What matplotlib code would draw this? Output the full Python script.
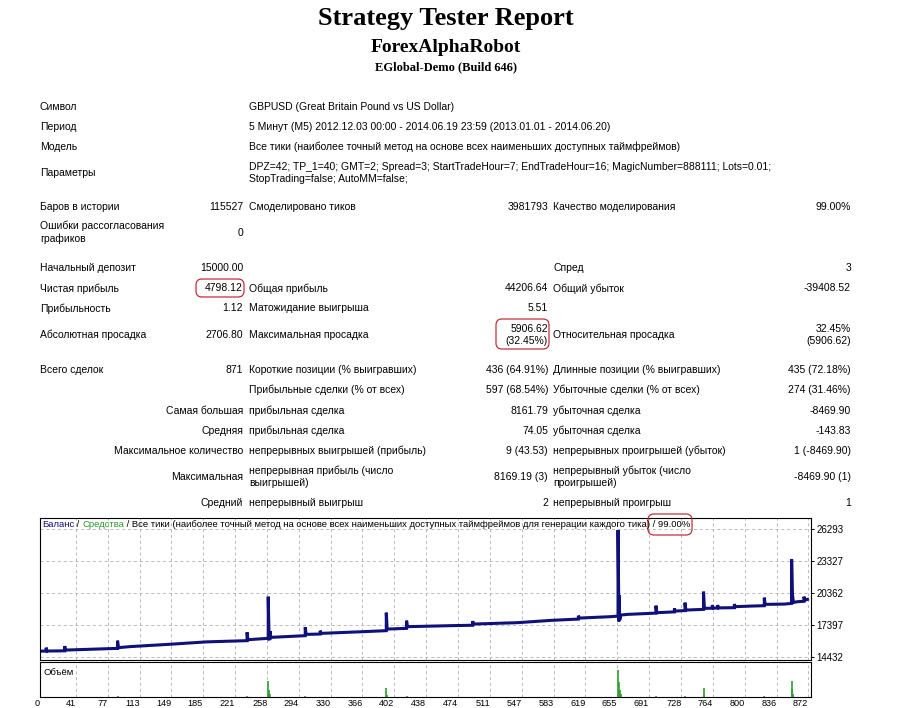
import matplotlib
matplotlib.use("Agg")
import matplotlib.pyplot as plt
from matplotlib.patches import FancyBboxPatch

plt.rcParams["font.family"] = ["Liberation Sans", "DejaVu Sans"]

# Заголовок отчёта
title = "Strategy Tester Report"
expert = "ForexAlphaRobot"
server = "EGlobal-Demo (Build 646)"

# Верхний блок: метка и значение
info_labels = ["Символ", "Период", "Модель", "Параметры"]
info_values = [
    "GBPUSD (Great Britain Pound vs US Dollar)",
    "5 Минут (M5) 2012.12.03 00:00 - 2014.06.19 23:59 (2013.01.01 - 2014.06.20)",
    "Все тики (наиболее точный метод на основе всех наименьших доступных таймфреймов)",
    "DPZ=42; TP_1=40; GMT=2; Spread=3; StartTradeHour=7; EndTradeHour=16; MagicNumber=888111; Lots=0.01;\n"
    "StopTrading=false; AutoMM=false;",
]

# Таблица результатов: (метка, значение, метка, значение, метка, значение)
stat_rows = [
    ("Баров в истории", "115527", "Смоделировано тиков", "3981793", "Качество моделирования", "99.00%"),
    ("Ошибки рассогласования\nграфиков", "0", "", "", "", ""),
    ("Начальный депозит", "15000.00", "", "", "Спред", "3"),
    ("Чистая прибыль", "4798.12", "Общая прибыль", "44206.64", "Общий убыток", "-39408.52"),
    ("Прибыльность", "1.12", "Матожидание выигрыша", "5.51", "", ""),
    ("Абсолютная просадка", "2706.80", "Максимальная просадка", "5906.62\n(32.45%)",
     "Относительная просадка", "32.45%\n(5906.62)"),
    ("Всего сделок", "871", "Короткие позиции (% выигравших)", "436 (64.91%)",
     "Длинные позиции (% выигравших)", "435 (72.18%)"),
    ("", "", "Прибыльные сделки (% от всех)", "597 (68.54%)", "Убыточные сделки (% от всех)", "274 (31.46%)"),
    ("Самая большая", "", "прибыльная сделка", "8161.79", "убыточная сделка", "-8469.90"),
    ("Средняя", "", "прибыльная сделка", "74.05", "убыточная сделка", "-143.83"),
    ("Максимальное количество", "", "непрерывных выигрышей (прибыль)", "9 (43.53)",
     "непрерывных проигрышей (убыток)", "1 (-8469.90)"),
    ("Максимальная", "", "непрерывная прибыль (число\nвыигрышей)", "8169.19 (3)",
     "непрерывный убыток (число\nпроигрышей)", "-8469.90 (1)"),
    ("Средний", "", "непрерывный выигрыш", "2", "непрерывный проигрыш", "1"),
]

# Кривая баланса (номер сделки, баланс)
trades = [0, 7, 7, 8, 28, 28, 29, 64, 88, 88, 89, 102, 148, 189, 235, 235, 236, 258,
          259, 259, 260, 261, 261, 262, 301, 301, 302, 318, 318, 319, 367, 393, 393, 394,
          416, 416, 417, 466, 491, 491, 492, 542, 580, 611, 611, 612, 648, 656, 656, 657,
          657, 658, 659, 667, 693, 699, 699, 700, 720, 720, 721, 732, 732, 733, 753, 753,
          754, 763, 763, 764, 769, 769, 770, 788, 788, 789, 807, 822, 822, 823, 845, 853,
          853, 854, 854, 855, 860, 867, 867, 868, 871]
balance = [15000, 15010, 15323, 15010, 15030, 15472, 15100, 15193, 15258, 15972, 15323,
           15420, 15640, 15860, 15972, 16741, 16060, 16185, 16185, 20049, 16120, 16140,
           16861, 16278, 16435, 17204, 16555, 16586, 16899, 16648, 16806, 16899, 18566,
           17047, 17112, 17825, 17269, 17362, 17400, 17788, 17510, 17640, 17853, 17973,
           18288, 18066, 18196, 18251, 26220, 17750, 20197, 17900, 18344, 18409, 18502,
           18530, 19215, 18566, 18640, 18965, 18715, 18760, 19493, 18807, 18872, 20512,
           18965, 18980, 19271, 18990, 18996, 19271, 19010, 19028, 19363, 19122, 19178,
           19213, 19956, 19335, 19363, 19428, 23505, 19493, 20197, 19521, 19585, 19620,
           20049, 19734, 19798]

# Объём сделок
vol_trades = [88, 235, 259, 260, 261, 301, 393, 394, 416, 656, 657, 658, 659, 699,
              732, 753, 754, 822, 853, 854, 855]
volumes = [0.04, 0.04, 0.60, 0.25, 0.12, 0.04, 0.33, 0.08, 0.04, 1.00, 0.55, 0.25, 0.10,
           0.04, 0.04, 0.33, 0.08, 0.04, 0.60, 0.30, 0.10]

y_ticks = [14432, 17397, 20362, 23327, 26293]
x_ticks = [0, 41, 77, 113, 149, 185, 221, 258, 294, 330, 366, 402, 438, 474, 511, 547,
           583, 619, 655, 691, 728, 764, 800, 836, 872]

legend_parts = ["Баланс", " / ", "Средства",
                " / Все тики (наиболее точный метод на основе всех наименьших доступных "
                "таймфреймов для генерации каждого тика) / 99.00%"]
legend_colors = ["#10107a", "black", "#2e9c2e", "black"]
volume_label = "Объём"

W, H = 908, 708
fig = plt.figure(figsize=(W / 100, H / 100), dpi=100)

# --- график баланса ---
ax = fig.add_axes([40 / W, 1 - 660 / H, 771 / W, 142 / H])
ax.plot(trades, balance, color="#10107a", lw=2.2, solid_joinstyle="miter")
ax.set_xlim(0, 875)
ax.set_ylim(14180, 27340)
ax.set_yticks(y_ticks)
ax.set_xticks(x_ticks)
ax.tick_params(axis="x", length=0, labelbottom=False)
ax.yaxis.tick_right()
ax.tick_params(axis="y", length=2, width=0.7, pad=2, labelsize=7)
ax.grid(True, color="#b8b8b8", ls=(0, (3, 3)), lw=0.7)
for s in ax.spines.values():
    s.set_linewidth(0.8)

# --- объём ---
axv = fig.add_axes([40 / W, 1 - 697 / H, 771 / W, 35 / H])
axv.vlines(vol_trades, 0, volumes, color="#2f9f2f", lw=1.2)
axv.set_xlim(0, 875)
axv.set_ylim(0, 1.3)
axv.set_yticks([])
axv.set_xticks(x_ticks)
axv.set_xticklabels([str(t) for t in x_ticks], ha="right")
axv.tick_params(axis="x", length=0, pad=1.5, labelsize=6.6)
axv.grid(True, axis="x", color="#b8b8b8", ls=(0, (3, 3)), lw=0.7)
for s in axv.spines.values():
    s.set_linewidth(0.8)
axv.text(4, 0.92, volume_label, fontsize=6.8, va="center")

# --- тексты отчёта поверх всего, в пикселях ---
ov = fig.add_axes([0, 0, 1, 1])
ov.set_xlim(0, W)
ov.set_ylim(H, 0)
ov.axis("off")
ov.patch.set_alpha(0)

ov.text(446, 18, title, family="Liberation Serif", weight="bold", fontsize=19,
        ha="center", va="center")
ov.text(446, 47, expert, family="Liberation Serif", weight="bold", fontsize=14,
        ha="center", va="center")
ov.text(446, 67, server, family="Liberation Serif", weight="bold", fontsize=9,
        ha="center", va="center")

fs = 7.5
info_y = [106.7, 126.7, 146.7, 173.5]
for y, lab, val in zip(info_y, info_labels, info_values):
    ov.text(40, y, lab, fontsize=fs, va="center")
    ov.text(249, y, val, fontsize=fs, va="center", linespacing=1.25)

stat_y = [206.7, 232.5, 268.3, 288.3, 308.3, 334.5, 370, 390, 410.7, 430.7, 450.7, 476.7, 503.3]
for y, row in zip(stat_y, stat_rows):
    l1, v1, l2, v2, l3, v3 = row
    if v1:
        ov.text(40, y, l1, fontsize=fs, va="center", linespacing=1.25)
    else:
        ov.text(243, y, l1, fontsize=fs, va="center", ha="right")
    ov.text(243, y, v1, fontsize=fs, va="center", ha="right")
    ov.text(249, y, l2, fontsize=fs, va="center", linespacing=1.25)
    ov.text(548, y, v2, fontsize=fs, va="center", ha="right", linespacing=1.25)
    ov.text(553, y, l3, fontsize=fs, va="center", linespacing=1.25)
    ov.text(851, y, v3, fontsize=fs, va="center", ha="right", linespacing=1.25)

# заголовок графика разными цветами
renderer = fig.canvas.get_renderer()
x = 42
for part, col in zip(legend_parts, legend_colors):
    t = ov.text(x, 524.5, part, color=col, fontsize=6.8, va="center")
    x += t.get_window_extent(renderer).width

# красные овалы
for (x0, y0, w, h) in [(196, 279, 48, 18), (496, 319, 53, 30), (648, 514, 44, 21)]:
    ov.add_patch(FancyBboxPatch((x0 + 4, y0 + 4), w - 8, h - 8,
                                boxstyle="round,pad=4,rounding_size=6",
                                fc="none", ec="#c0303a", lw=0.9))

fig.savefig("out.png", dpi=100)
